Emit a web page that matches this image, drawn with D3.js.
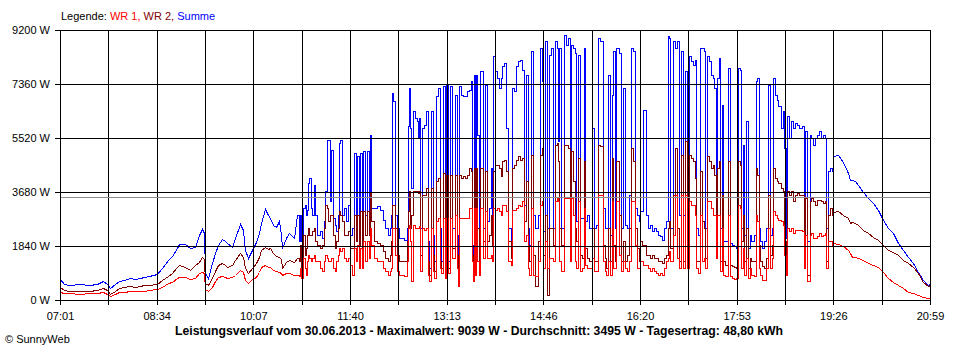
<!DOCTYPE html>
<html><head><meta charset="utf-8">
<script src="https://cdn.jsdelivr.net/npm/d3@7"></script>
<style>
body{margin:0;background:#fff;}
svg{display:block;font-family:"Liberation Sans",Arial,sans-serif;}
</style></head><body>
<svg id="c" width="960" height="360"></svg>
<script>
// minutes after 07:01
const minutes=[0,4,9,19,28,36,41,45,48,53,57,62,67,72,77,81,86,93,98,104,108,113,115,120,125,130,134,137,139,140,143,146,149,152,156,159,161,166,169,173,176,178,181,185,189,192,194,197,200,202,205,208,211,213,214,218,221,225,
228,230,231,232,234,236,237,238,239,240,
242,243,245,246,248,250,252,254,255,257,
258,260,261,263,265,266,268,269,270,272,
274,275,277,279,281,283,285,286,288,289,
291,292,294,296,298,299,300,302,305,308,
311,313,316,318,319,320,321,323,325,327,
331,334,335,336,337,338,340,342,344,345,
346,347,349,351,353,354,355,357,359,360,
362,364,366,367,369,371,372,374,376,378,
380,382,383,384,386,388,390,392,394,396,
397,398,399,400,401,402,404,405,407,409,
411,413,415,416,417,419,421,423,425,426,
428,430,432,434,435,437,439,441,443,445,
447,449,451,452,454,456,458,460,462,464,
465,467,469,471,473,475,477,479,480,481,
483,485,487,489,491,492,494,496,497,499,
501,503,505,506,508,510,512,514,516,518,
520,522,523,525,526,528,530,532,533,535,
536,538,540,542,544,546,548,550,552,554,
556,558,559,561,562,564,566,568,570,572,
574,576,578,580,582,584,586,587,588,590,
592,594,596,598,600,602,604,606,608,610,
612,613,615,616,618,620,621,623,625,627,
629,630,632,633,635,636,638,639,641,643,
645,647,649,651,653,655,656,658,659,661,
663,665,666,668,670,671,673,674,676,678,
680,682,684,686,687,689,691,692,694,696,
697,699,700,702,704,706,708,710,712,715,
717,718,720,722,723,725,727,729,731,733,
735,737,738,740,742,744,
745,749,754,759,761,763,766,769,773,778,783,788,793,798,802,807,812,817,822,826,831,836,838];

const summe=[705,540,511,534,520,560,647,560,420,534,647,690,738,700,738,780,818,875,1079,1363,1499,1760,1908,1900,1760,1810,2215,2408,2300,909,750,1249,1600,1874,2067,2000,1931,1817,2100,2590,2400,1703,1420,1703,1987,2300,2612,3090,2900,2783,2550,2500,2700,2200,1760,2100,2300,2100,
2908,1999,2908,1999,3135,3248,2908,3078,3987,4157,
3135,2908,3930,2908,2226,2340,2113,2680,3703,5463,
5463,3362,5122,2794,2567,2340,2908,5350,5440,2908,
3135,2680,3248,2226,2453,5009,2680,4895,2453,5009,
2226,5066,2908,5066,2680,5634,3135,3135,3192,3078,
2737,2453,2226,2453,2908,7053,6769,2908,2453,2113,
2056,2453,5917,7224,5861,3816,6429,6201,6088,5520,
6201,2453,5861,5974,6429,1999,1090,6429,2226,1318,
6940,7224,2453,1318,7280,1318,7337,1318,7280,2453,
6997,2226,863,7280,6997,6940,6940,7110,7167,7451,
1885,1090,7678,1999,7678,5634,1999,7792,2453,7337,
2680,3135,4498,2567,8303,7792,7564,7224,7564,7962,
8075,5861,2453,1999,7224,7110,7962,8132,8189,7848,
3248,7678,2453,1885,8473,2908,2453,2908,8587,7451,
2340,8814,2453,8359,8587,2453,8814,8587,5406,8587,
2453,9039,8700,8927,2680,8700,8587,8416,2680,8359,
2794,2794,8587,2680,2908,2453,5861,2453,2567,8927,
8814,8814,3135,2453,2453,7678,2226,6997,8473,2453,
8587,8416,2453,7224,2567,2453,3589,8587,8473,3135,
2908,2680,3021,3021,6485,2908,2453,2567,2340,2453,
2340,2226,2169,2056,2453,2680,8984,8927,2453,8814,
8587,8814,2908,8473,2908,7792,2453,8303,8132,8019,
8189,2453,2226,8587,8587,8473,2453,8303,8132,7678,
7564,7224,2453,7564,8246,2453,6656,1999,1999,7905,
1942,1863,1829,1772,7905,7848,2453,5293,2226,6088,
1772,2226,1999,2226,7451,7564,2453,1999,1772,1999,
2453,7337,2226,2453,7564,6997,6826,6599,5861,6429,
5179,2113,6258,5520,6088,5861,6031,5974,5861,5917,
2453,5747,1999,5634,5520,5293,5520,5634,5747,5520,
5634,5520,2453,4384,4498,4384,
4906,4940,4713,4316,4088,4088,4050,3918,3691,3464,3294,3066,2726,2442,2271,1931,1703,1477,1249,965,681,511,568];

const wr2=[432,340,317,317,320,340,398,330,204,300,398,430,477,460,480,500,511,534,681,818,909,1136,1193,1113,1022,1190,1306,1454,1400,590,500,738,1000,1193,1250,1200,1136,1193,1350,1590,1450,1079,909,1079,1250,1450,1703,1800,1750,1760,1590,1500,1450,1400,1079,1306,1363,1300,
1431,1318,1885,863,2226,1545,1772,2226,2453,2226,
2226,2340,2453,1999,1885,1772,1885,2453,3248,3135,
2680,2908,2908,2226,1772,1999,2453,3021,2908,2680,
2226,2226,2340,1772,1772,2908,1999,2908,1885,3021,
1772,3021,2226,3021,2226,3646,2680,1999,1942,1885,
1658,1431,1318,1545,1999,3248,3248,2453,1545,1318,
1318,1999,3021,3703,2453,2908,3703,3703,3703,3646,
3703,1545,3589,3589,3816,1318,863,3816,1545,977,
4043,4157,1318,1090,4327,863,4271,1090,4271,1772,
4271,1545,522,4271,4157,4214,4157,4271,4498,4384,
1545,863,4498,1318,4498,2453,1318,4498,1999,4384,
1999,2226,2908,1885,4384,4611,4611,4498,4214,4725,
4782,4384,1999,1431,4498,4611,4782,4895,4782,4839,
2680,4043,1885,1318,4952,1545,466,1999,4952,5179,
1545,2908,182,2453,2453,1885,5293,5350,4725,2453,
1885,5293,5293,5179,2226,5066,4043,2453,1999,4839,
1545,1431,4725,1772,1431,1318,2453,1318,1318,5293,
5236,5236,1885,1431,1090,2453,1318,4839,1885,1318,
4725,2908,1318,1999,1318,1545,2453,5179,4725,2453,
1772,1318,1999,1885,1885,1545,1545,1431,1545,1431,
1431,1318,1318,1261,1431,1545,2453,2680,1772,3589,
5179,2453,1318,4952,1318,5406,1318,4952,4839,4725,
4157,1318,1318,4384,2680,2453,1431,4895,4725,4498,
4611,4271,1772,4498,4725,1318,3589,1318,1204,4725,
1204,1147,1113,1090,4725,4611,1999,2908,1318,2453,
1090,1431,1318,1318,4498,4271,1885,1318,1147,1090,
1431,3589,1545,1885,4498,4157,4043,3987,3816,3703,
1999,1318,3703,3589,3703,3362,3589,3646,3589,3589,
1318,3476,863,3362,3476,3362,3248,3419,3419,3362,
3305,3362,1318,2908,3135,2908,
3009,3030,2896,2783,2612,2650,2612,2555,2385,2271,2158,2044,1874,1703,1647,1533,1363,1249,1136,909,625,477,500];

const wr1=[262,240,228,221,225,235,272,220,148,200,260,280,295,290,300,320,341,375,454,568,602,738,795,772,704,738,909,965,930,363,300,454,650,795,820,780,738,795,850,1022,950,680,568,700,795,950,1136,1193,1136,1136,1020,1000,970,930,850,909,909,850,
863,806,1090,750,1431,1090,863,1318,1545,1431,
1318,1431,1545,1318,1318,1090,977,1318,1545,1431,
1318,1318,1431,1090,977,1318,1545,1772,1658,1772,
1431,1318,1431,1204,863,1772,1318,1885,1090,1772,
1090,1999,1318,1999,1431,2453,1885,1431,1318,1318,
1090,977,863,977,1090,2453,2453,1545,977,863,
806,1318,2453,2567,1999,636,2567,2453,2453,2453,
2510,977,2453,2397,2453,863,636,2453,977,750,
2680,2794,1090,920,2794,750,2794,920,2794,1431,
2908,1090,466,2794,2794,2794,2794,2794,3135,3135,
1318,636,3135,863,3135,1318,863,3135,1431,3021,
1431,1431,1545,1318,3135,3078,3135,3021,2908,3248,
3248,3021,1318,1204,3078,3078,3135,3248,3192,3362,
1999,2226,1090,863,3135,863,806,1318,3248,3362,
1090,1999,1090,1431,1431,1318,3362,3476,3362,1318,
977,3476,3476,3476,1318,3476,2908,1318,1090,3362,
977,1090,3135,1204,1090,1090,1431,977,977,3589,
3589,3589,1318,977,863,1318,863,3362,1090,1090,
3362,1545,977,1318,1090,977,1318,3362,3362,1885,
1090,1090,1318,1318,1204,1204,1090,977,1090,977,
920,863,920,863,1090,1318,1431,1658,1318,2226,
3589,1431,1090,3589,1090,3589,1090,3362,3248,3248,
2908,1090,920,2908,1318,1431,1090,3362,3362,3135,
2908,2908,1431,2908,2908,977,2453,863,806,2908,
806,750,727,750,3248,3135,1090,1772,863,1431,
750,1090,863,806,2908,2680,1090,863,693,693,
1090,2453,1090,1431,3021,2908,2794,2737,2680,2567,
1545,863,2453,2340,2453,2283,2397,2397,2397,2340,
1090,2226,636,2226,2283,2113,2113,2169,2283,2169,
2226,2283,1090,1999,1999,1885,
1931,1900,1840,1703,1590,1480,1450,1420,1363,1249,1193,1136,965,738,625,511,397,284,227,170,114,79,57];

const yTickValues=[0,1840,3680,5520,7360,9200];
const xTickLabels=["07:01","08:34","10:07","11:40","13:13","14:46","16:20","17:53","19:26","20:59"];
const spanMinutes=838;
const averageW=3495;
const seriesNames=["WR 1","WR 2","Summe"];
const seriesColors=["#ff0000","#800000","#0000ff"];
const titleText="Leistungsverlauf vom 30.06.2013 - Maximalwert: 9039 W - Durchschnitt: 3495 W - Tagesertrag: 48,80 kWh";
const creditText="\u00A9 SunnyWeb";

const svg=d3.select("#c");
const x=d3.scaleLinear().domain([0,spanMinutes]).range([60,930]);
const y=d3.scaleLinear().domain([0,9200]).range([300,30]);
const gridTimes=d3.range(19).map(i=>i*spanMinutes/18);

const n=Math.min(minutes.length,summe.length,wr1.length,wr2.length);
// cloudy (rapidly changing) part is drawn as steps, calm morning/evening as lines
const stepStart=minutes.indexOf(228), stepEnd=minutes.indexOf(745);
const parts=[[0,stepStart,d3.curveLinear],[stepStart,stepEnd,d3.curveStepAfter],[stepEnd,n-1,d3.curveLinear]];
const pathFor=(vals,a,b,curve)=>d3.line().curve(curve)
  .x(i=>Math.round(x(minutes[i]))+0.5).y(i=>Math.round(y(vals[i]))+0.5)(d3.range(a,b+1));

const dataG=svg.append("g").attr("shape-rendering","crispEdges").attr("fill","none").attr("stroke-width",1);
[[summe,seriesColors[2]],[wr2,seriesColors[1]],[wr1,seriesColors[0]]].forEach(([v,c])=>{
  const d=parts.map(([a,b,cv])=>pathFor(v,a,b,cv)).join("");
  dataG.append("path").attr("d",d).attr("stroke",c);
});

// grid
const gridG=svg.append("g").attr("stroke","#000").attr("shape-rendering","crispEdges");
gridG.selectAll("line.h").data(yTickValues).join("line").attr("class","h")
  .attr("x1",60).attr("x2",931).attr("y1",d=>Math.round(y(d))+0.5).attr("y2",d=>Math.round(y(d))+0.5);
gridG.selectAll("line.v").data(gridTimes).join("line").attr("class","v")
  .attr("y1",30).attr("y2",301).attr("x1",d=>Math.round(x(d))+0.5).attr("x2",d=>Math.round(x(d))+0.5);

// average line
svg.append("line").attr("shape-rendering","crispEdges").attr("stroke","#8c8c8c")
  .attr("x1",61).attr("x2",930).attr("y1",Math.round(y(averageW))+0.5).attr("y2",Math.round(y(averageW))+0.5);

// axes
const yAxis=d3.axisLeft(y).tickValues(yTickValues).tickFormat(d=>d+" W").tickSize(5).tickPadding(5).tickSizeOuter(0);
const gy=svg.append("g").attr("transform","translate(60,0)").call(yAxis);
const xAxis=d3.axisBottom(x).tickValues(gridTimes).tickFormat((d,i)=>i%2===0?xTickLabels[i/2]:"").tickSize(5).tickPadding(7).tickSizeOuter(0);
const gx=svg.append("g").attr("transform","translate(0,300)").call(xAxis);
[gy,gx].forEach(g=>{
  g.attr("font-family",'"Liberation Sans",Arial,sans-serif').attr("font-size",11);
  g.selectAll("line,path").attr("stroke","#000").attr("shape-rendering","crispEdges");
  g.selectAll("text").attr("fill","#000");
});

// legend
const leg=svg.append("text").attr("x",61).attr("y",20).attr("font-size",11).attr("xml:space","preserve");
leg.append("tspan").attr("fill","#000").text("Legende: ");
seriesNames.forEach((s,i)=>{
  leg.append("tspan").attr("fill",seriesColors[i]).text(s+(i<seriesNames.length-1?", ":""));
});

// title
svg.append("text").attr("x",479).attr("y",335).attr("text-anchor","middle").attr("font-size",12)
  .attr("font-weight","bold").attr("textLength",608).attr("lengthAdjust","spacingAndGlyphs").text(titleText);
svg.append("text").attr("x",5).attr("y",343).attr("font-size",11).attr("fill","#000").text(creditText);
</script>
</body></html>
